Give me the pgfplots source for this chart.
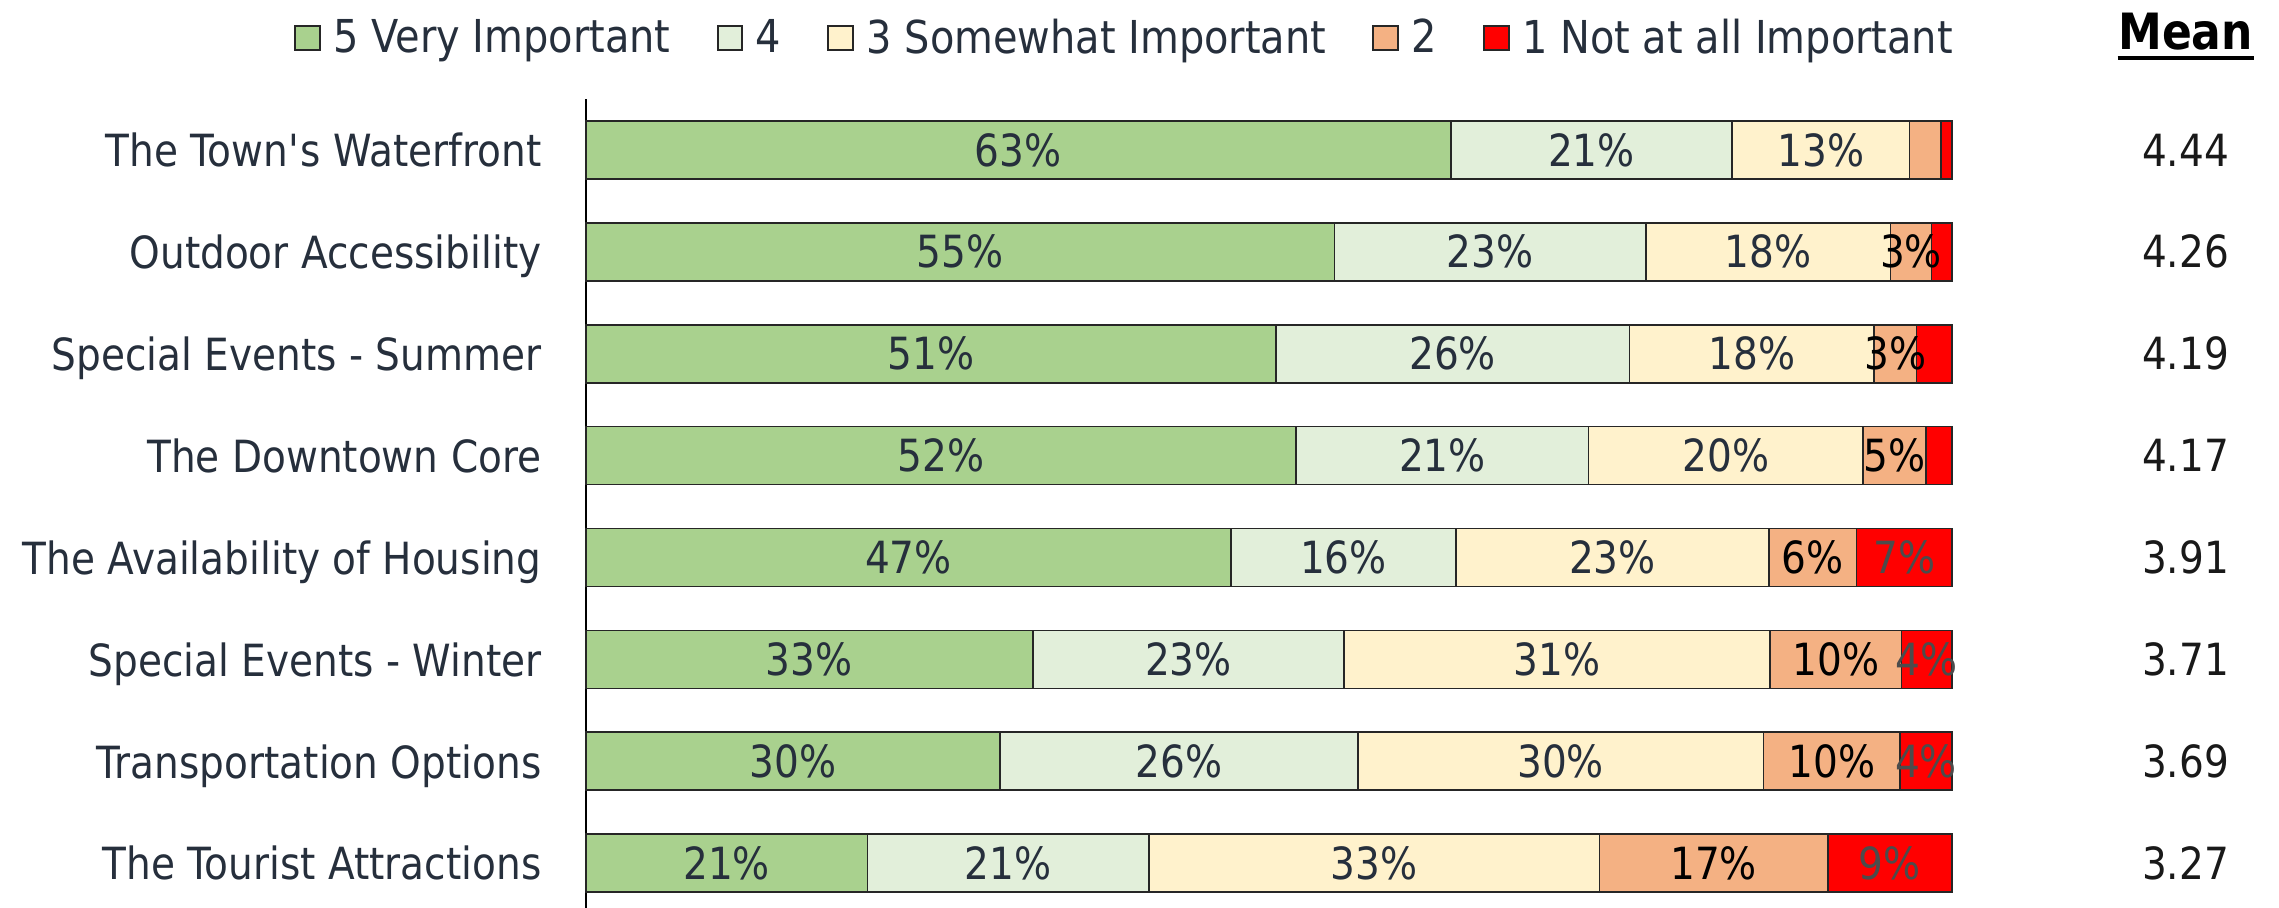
\documentclass[border=0pt]{standalone}
\usepackage{pgfplots}
\pgfplotsset{compat=1.18}
\usepackage{fontspec}
\setmainfont{DejaVu Sans}[FakeStretch=0.88]

\definecolor{c5}{HTML}{A9D18E}
\definecolor{c4}{HTML}{E2EFDA}
\definecolor{c3}{HTML}{FFF2CC}
\definecolor{c2}{HTML}{F4B183}
\definecolor{c1}{HTML}{FF0000}
\definecolor{navy}{HTML}{262F3C}
\definecolor{edge}{HTML}{262626}

\begin{document}
\begin{tikzpicture}[font=\fontsize{13.3}{16}\selectfont]
\begin{axis}[
  at={(0,0)}, anchor=south west,
  xbar stacked,
  scale only axis,
  width=409.8pt, height=242.7pt,
  xmin=0, xmax=100, ymin=0.56, ymax=8.5,
  bar width=17.4pt,
  axis x line=none,
  axis y line*=left,
  y axis line style={line width=0.8pt, black},
  ytick={1,2,3,4,5,6,7,8},
  yticklabels={The Tourist Attractions, Transportation Options, Special Events - Winter, The Availability of Housing, The Downtown Core, Special Events - Summer, Outdoor Accessibility, The Town\textquotesingle s Waterfront},
  major tick length=0pt,
  yticklabel style={text=navy, inner sep=0pt, xshift=-13.2pt, text height=13.3pt, text depth=3.2pt},
  clip=false,
  point meta=explicit symbolic,
  nodes near coords,
  every node near coord/.append style={text=navy, inner sep=0pt},
  every axis plot/.append style={draw=edge, line width=0.5pt},
  legend columns=5,
  legend style={draw=none, fill=none, at={(1.006,1.075)}, anchor=east, inner sep=0pt,
    text=navy, font=\fontsize{13.6}{16}\selectfont,
    /tikz/every odd column/.append style={column sep=1.8pt},
    /tikz/every even column/.append style={column sep=11.8pt}},
  legend image code/.code={\draw[#1, draw=edge, line width=0.6pt] (0pt,-3.6pt) rectangle (7.4pt,3.6pt);},
]
\addplot[fill=c5] coordinates {(63.3,8) [63\%] (54.8,7) [55\%] (50.5,6) [51\%] (52.0,5) [52\%] (47.2,4) [47\%] (32.7,3) [33\%] (30.3,2) [30\%] (20.6,1) [21\%]};
\addplot[fill=c4] coordinates {(20.6,8) [21\%] (22.8,7) [23\%] (25.9,6) [26\%] (21.4,5) [21\%] (16.5,4) [16\%] (22.8,3) [23\%] (26.2,2) [26\%] (20.6,1) [21\%]};
\addplot[fill=c3] coordinates {(13.0,8) [13\%] (17.9,7) [18\%] (17.9,6) [18\%] (20.1,5) [20\%] (22.9,4) [23\%] (31.2,3) [31\%] (29.7,2) [30\%] (33.0,1) [33\%]};
\addplot[fill=c2, every node near coord/.append style={text=black}] coordinates {(2.3,8) [{}] (3.0,7) [3\%] (3.1,6) [3\%] (4.6,5) [5\%] (6.4,4) [6\%] (9.6,3) [10\%] (10.0,2) [10\%] (16.7,1) [17\%]};
\addplot[fill=c1, every node near coord/.append style={text=black!70}] coordinates {(0.8,8) [{}] (1.5,7) [{}] (2.6,6) [{}] (1.9,5) [{}] (7.0,4) [7\%] (3.7,3) [4\%] (3.8,2) [4\%] (9.1,1) [9\%]};
\legend{5 Very Important, 4, 3 Somewhat Important, 2, 1 Not at all Important}

\coordinate (mc) at (axis cs:117.1,9.16);
\node[text=black!90] at (axis cs:117.1,8) {4.44};
\node[text=black!90] at (axis cs:117.1,7) {4.26};
\node[text=black!90] at (axis cs:117.1,6) {4.19};
\node[text=black!90] at (axis cs:117.1,5) {4.17};
\node[text=black!90] at (axis cs:117.1,4) {3.91};
\node[text=black!90] at (axis cs:117.1,3) {3.71};
\node[text=black!90] at (axis cs:117.1,2) {3.69};
\node[text=black!90] at (axis cs:117.1,1) {3.27};
\end{axis}
\node[inner sep=0pt, font=\bfseries\fontsize{15}{18}\selectfont] (mean) at (mc) {Mean};
\draw[line width=1.2pt] ([yshift=-2.5pt]mean.base west) -- ([yshift=-2.5pt]mean.base east);
\pgfresetboundingbox
\path[use as bounding box] (-175.8pt,0pt) rectangle (507.9pt,272.4pt);
\end{tikzpicture}
\end{document}
